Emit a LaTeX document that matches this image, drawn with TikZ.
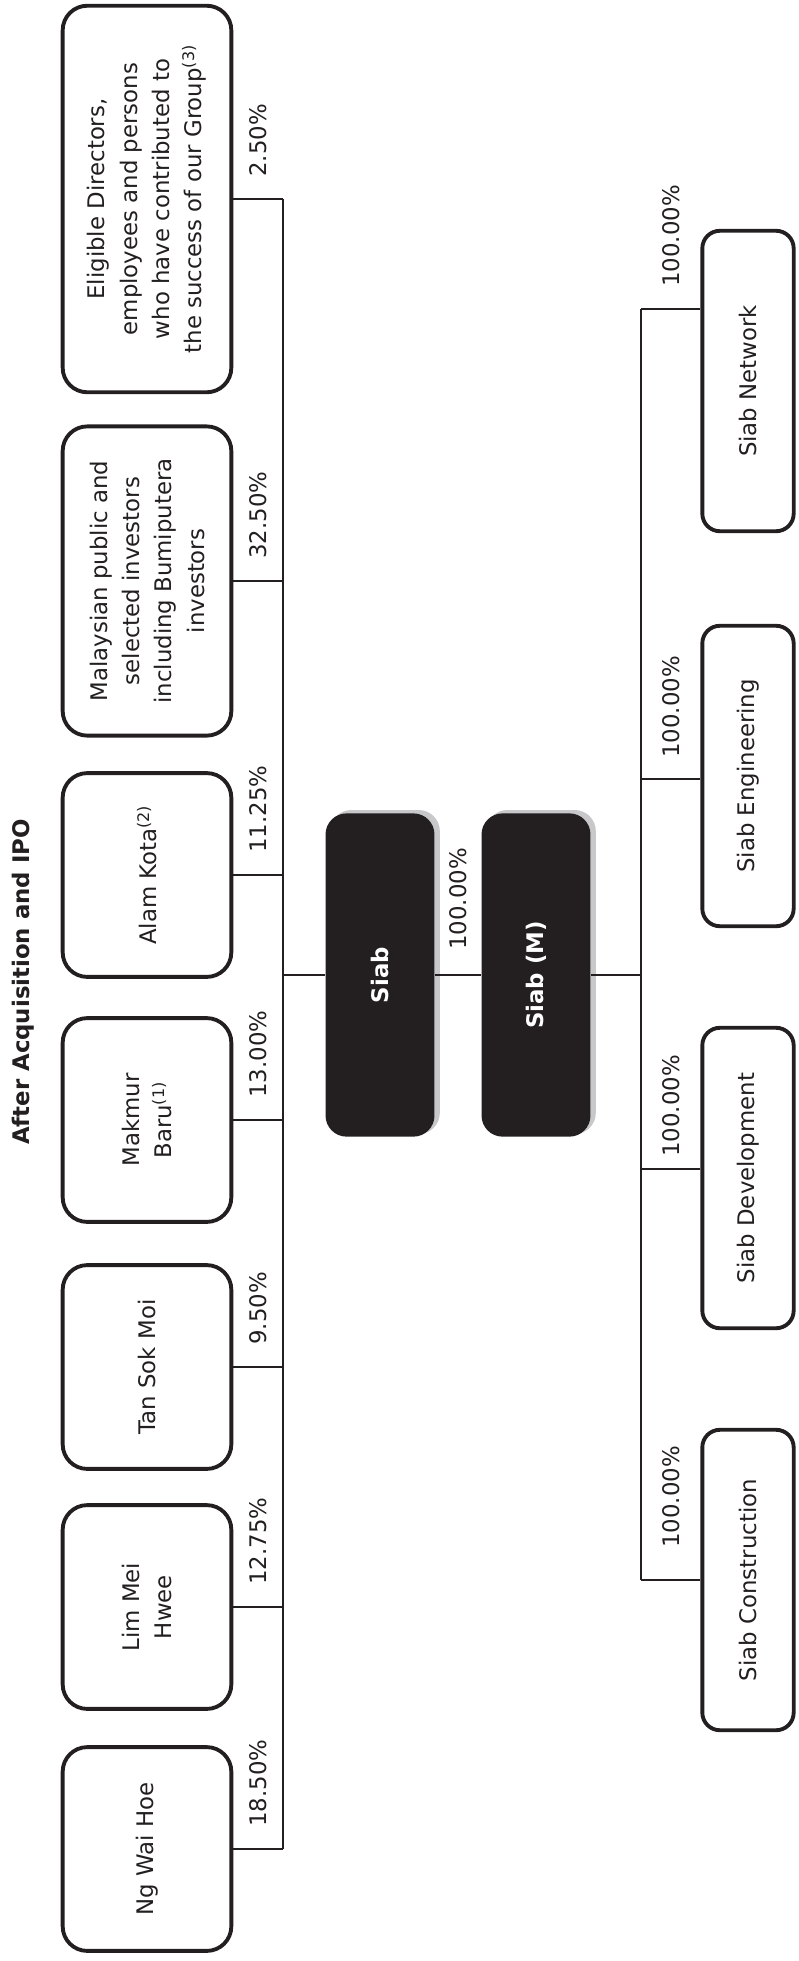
\documentclass[tikz,border=0pt]{standalone}
\usepackage{fontspec}
\setmainfont{DejaVu Sans}
\usepackage{tikz}
\usetikzlibrary{positioning, calc, backgrounds}

\definecolor{siabdark}{HTML}{231F20}
\definecolor{siabshade}{HTML}{C8C8CA}

\begin{document}
\begin{tikzpicture}[x=0.02cm, y=-0.02cm, color=siabdark,
    font=\fontsize{13}{18.4}\selectfont,
    holder/.style={draw=siabdark, line width=2.2pt, rounded corners=14pt, rotate=90, align=center, minimum height=96pt, minimum width=116pt, inner sep=2pt},
    company/.style={fill=siabdark, text=white, font=\fontsize{13}{16}\selectfont\bfseries, rounded corners=12pt, rotate=90, minimum height=62pt, minimum width=184pt},
    subsid/.style={draw=siabdark, line width=2.2pt, rounded corners=10pt, rotate=90, minimum height=52pt, minimum width=171pt},
    pct/.style={rotate=90, anchor=west, inner sep=0pt},
    link/.style={line width=0.85pt}]
        \useasboundingbox (0,0) rectangle (798,1961);

        % Title
        \node[rotate=90, font=\fontsize{13}{16}\selectfont\bfseries] (title) at (23,982) {After Acquisition and IPO};

        % Shareholders
        \node[holder, minimum width=220pt] (eligible) at (147,199) {Eligible Directors,\\employees and persons\\who have contributed to\\the success of our Group\textsuperscript{(3)}};
        \node[holder, minimum width=176pt] (public) at (147,581) {Malaysian public and\\selected investors\\including Bumiputera\\investors};
        \node[holder] (alam) at (147,875) {Alam Kota\textsuperscript{(2)}};
        \node[holder] (makmur) at (147,1120) {Makmur\\Baru\textsuperscript{(1)}};
        \node[holder] (tan) at (147,1367) {Tan Sok Moi};
        \node[holder] (lim) at (147,1607) {Lim Mei\\Hwee};
        \node[holder] (ng) at (147,1849) {Ng Wai Hoe};

        % Companies
        \node[company] (siab) at (380,975) {Siab};
        \node[company] (siabm) at (536,975) {Siab (M)};
        \begin{pgfonlayer}{background}
            \fill[siabshade, rounded corners=12pt] ($(siab.south west)+(5,-3)$) rectangle ($(siab.north east)+(5,-3)$);
            \fill[siabshade, rounded corners=12pt] ($(siabm.south west)+(5,-3)$) rectangle ($(siabm.north east)+(5,-3)$);
        \end{pgfonlayer}

        % Subsidiaries
        \node[subsid] (network) at (748,381) {Siab Network};
        \node[subsid] (engineering) at (748,776) {Siab Engineering};
        \node[subsid] (development) at (748,1178) {Siab Development};
        \node[subsid] (construction) at (748,1580) {Siab Construction};

        % Shareholdings
        \coordinate (busA) at (283,0);
        \draw[link] (eligible.south -| busA) -- (ng.south -| busA);
        \foreach \n/\p in {eligible/2.50, public/32.50, alam/11.25, makmur/13.00, tan/9.50, lim/12.75, ng/18.50} {
            \draw[link] (\n.south) -- (\n.south -| busA);
            \node[pct] (pct-\n) at ($(\n.south)!0.5!(\n.south -| busA)+(0,-22)$) {\p\%};
        }
        \draw[link] (siab.north -| busA) -- (siab.north);
        \draw[link] (siab.south) -- (siabm.north);
        \node[pct] (pct-siabm) at ($(siab.south)!0.5!(siabm.north)+(0,-25)$) {100.00\%};

        % Subsidiary links
        \coordinate (busB) at (641,0);
        \draw[link] (siabm.south) -- (siabm.south -| busB);
        \foreach \n/\o/\g in {network/-72/22, engineering/3/21, development/-9/12, construction/0/32} {
            \coordinate (tie-\n) at ($(\n.north)+(0,\o)$);
            \draw[link] (tie-\n -| busB) -- (tie-\n);
            \node[pct] (pct-\n) at ($(tie-\n -| busB)!0.5!(tie-\n)+(0,-\g)$) {100.00\%};
        }
        \draw[link] (tie-network -| busB) -- (tie-construction -| busB);
    \end{tikzpicture}
\end{document}
